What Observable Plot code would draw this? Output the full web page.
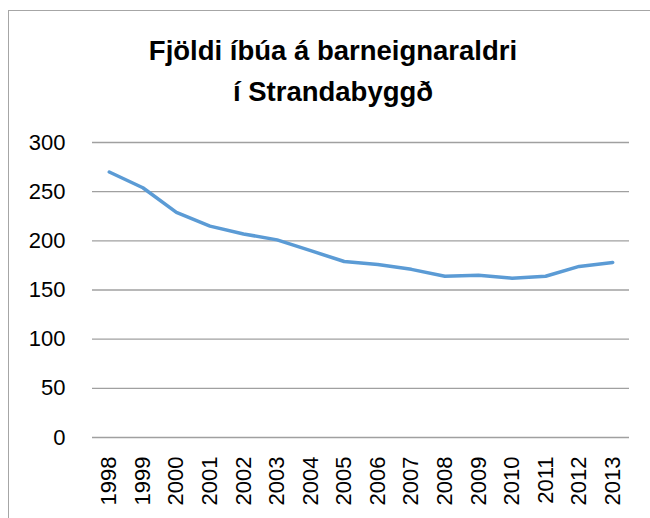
<!DOCTYPE html>
<html>
<head>
<meta charset="utf-8">
<script src="https://cdn.jsdelivr.net/npm/d3@7"></script>
<script src="https://cdn.jsdelivr.net/npm/@observablehq/plot@0.6"></script>
<style>
  html, body { margin: 0; padding: 0; background: #fff; }
  #wrap { position: relative; width: 650px; height: 518px; overflow: hidden; background: #fff; }
  #frame { position: absolute; left: 8px; top: 10px; width: 700px; height: 600px; border: 1.5px solid #a6a6a6; box-sizing: border-box; }
  #title { position: absolute; left: 83px; width: 500px; top: 30px; text-align: center;
           font-family: "Liberation Sans", Arial, sans-serif; font-weight: bold; font-size: 27.5px; line-height: 41px; color: #000; }
  #chart { position: absolute; left: 0; top: 0; }
</style>
</head>
<body>
<div id="wrap">
  <div id="frame"></div>
  <div id="chart"></div>
  <div id="title">Fjöldi íbúa á barneignaraldri<br>í Strandabyggð</div>
</div>
<script>
const years = ["1998","1999","2000","2001","2002","2003","2004","2005","2006","2007","2008","2009","2010","2011","2012","2013"];
const residents = [270, 254, 229, 215, 207, 201, 190, 179, 176, 171, 164, 165, 162, 164, 174, 178];
const yTicks = [0, 50, 100, 150, 200, 250, 300];

const data = years.map((y, i) => ({year: y, value: residents[i]}));

const chart = Plot.plot({
  width: 650,
  height: 518,
  marginLeft: 92,
  marginRight: 21,
  marginTop: 142,
  marginBottom: 81,
  style: {fontFamily: "'Liberation Sans', Arial, sans-serif", fontSize: "22px", color: "#000", background: "transparent"},
  x: {type: "point", domain: years, padding: 0.5, round: false, label: null},
  y: {domain: [0, 300], ticks: yTicks, label: null},
  marks: [
    Plot.ruleY(yTicks, {stroke: "#a0a0a0", strokeWidth: 1.3}),
    Plot.axisY({ticks: yTicks, tickSize: 0, tickPadding: 27, label: null, fontSize: 22}),
    Plot.axisX({tickSize: 0, tickPadding: 19, tickRotate: -90, label: null, fontSize: 22}),
    Plot.line(data, {x: "year", y: "value", stroke: "#5b9bd5", strokeWidth: 3.5, strokeLinejoin: "round", strokeLinecap: "round"})
  ]
});
document.getElementById("chart").appendChild(chart);
</script>
</body>
</html>
